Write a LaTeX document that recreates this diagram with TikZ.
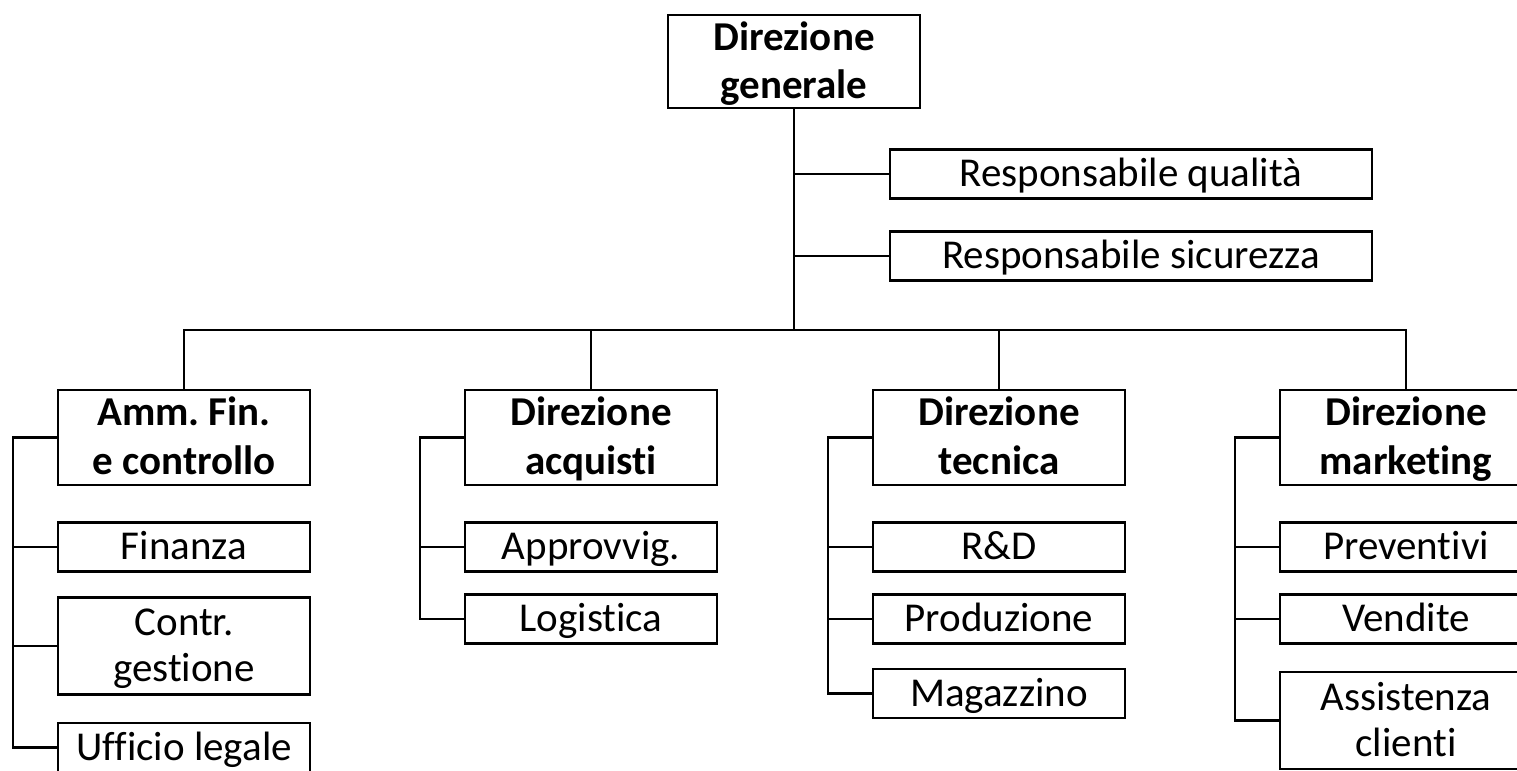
\documentclass[tikz,border=0pt]{standalone}
\usepackage{fontspec}
\setmainfont[Ligatures=NoCommon]{Carlito}
\usetikzlibrary{positioning}
\frenchspacing
\begin{document}
\begin{tikzpicture}[x=0.5pt,y=-0.5pt,
   box/.style={draw,line width=1.1pt,minimum width=126pt,minimum height=24.5pt,inner sep=0pt,align=center,
     text height=14.8pt,text depth=2pt,font=\fontsize{20.5}{23}\selectfont},
   twoline/.style={box,minimum height=48.5pt,text height=37.8pt},
   head/.style={box,minimum height=47.5pt,text height=39.3pt,font=\fontsize{20.5}{24.5}\selectfont\bfseries},
   link/.style={line width=1.1pt}]
 \useasboundingbox (0,0) rectangle (1517,771);
 % vertice
 \node[head,minimum height=46.5pt,text height=38.8pt,font=\fontsize{20.5}{24}\selectfont\bfseries] (dg) at (794,61.5) {Direzione\\generale};
 \node[box,minimum width=241pt] (rq) at (1131,174) {Responsabile qualità};
 \node[box,minimum width=241pt] (rs) at (1131,256) {Responsabile sicurezza};
 \coordinate (bus) at (794,330);
 \draw[link] (dg.south) -- (bus);
 \foreach \r in {rq,rs}
  \draw[link] (\r.west) -- (\r.west -| dg.south);
 % direzioni
 \node[head] (amm) at (184,437.5) {Amm. Fin.\\e controllo};
 \node[head] (acq) at (591,437.5) {Direzione\\acquisti};
 \node[head] (tec) at (999,437.5) {Direzione\\tecnica};
 \node[head] (mkt) at (1406,437.5) {Direzione\\marketing};
 \foreach \h in {amm,acq,tec,mkt}
  \draw[link] (\h.north) |- (bus);
 % uffici
 \node[box] (fin) at (184,547) {Finanza};
 \node[twoline] (cg) at (184,646) {Contr.\\gestione};
 \node[box] (ul) at (184,747.5) {Ufficio legale};
 \node[box] (apv) at (591,547) {Approvvig.};
 \node[box] (log) at (591,619) {Logistica};
 \node[box] (rd) at (999,547) {R\&D};
 \node[box] (prd) at (999,619) {Produzione};
 \node[box] (mag) at (999,693.5) {Magazzino};
 \node[box] (prv) at (1406,547) {Preventivi};
 \node[box] (ven) at (1406,619) {Vendite};
 \node[twoline] (ass) at (1406,720.5) {Assistenza\\clienti};
 \foreach \h/\l in {amm/ul,acq/log,tec/mag,mkt/ass}
  \draw[link] (\h.west) -- ++(-44,0) coordinate (\h-b) |- (\l.west);
 \foreach \s/\h in {fin/amm,cg/amm,apv/acq,rd/tec,prd/tec,prv/mkt,ven/mkt}
  \draw[link] (\s.west) -- (\s.west -| \h-b);
\end{tikzpicture}
\end{document}
